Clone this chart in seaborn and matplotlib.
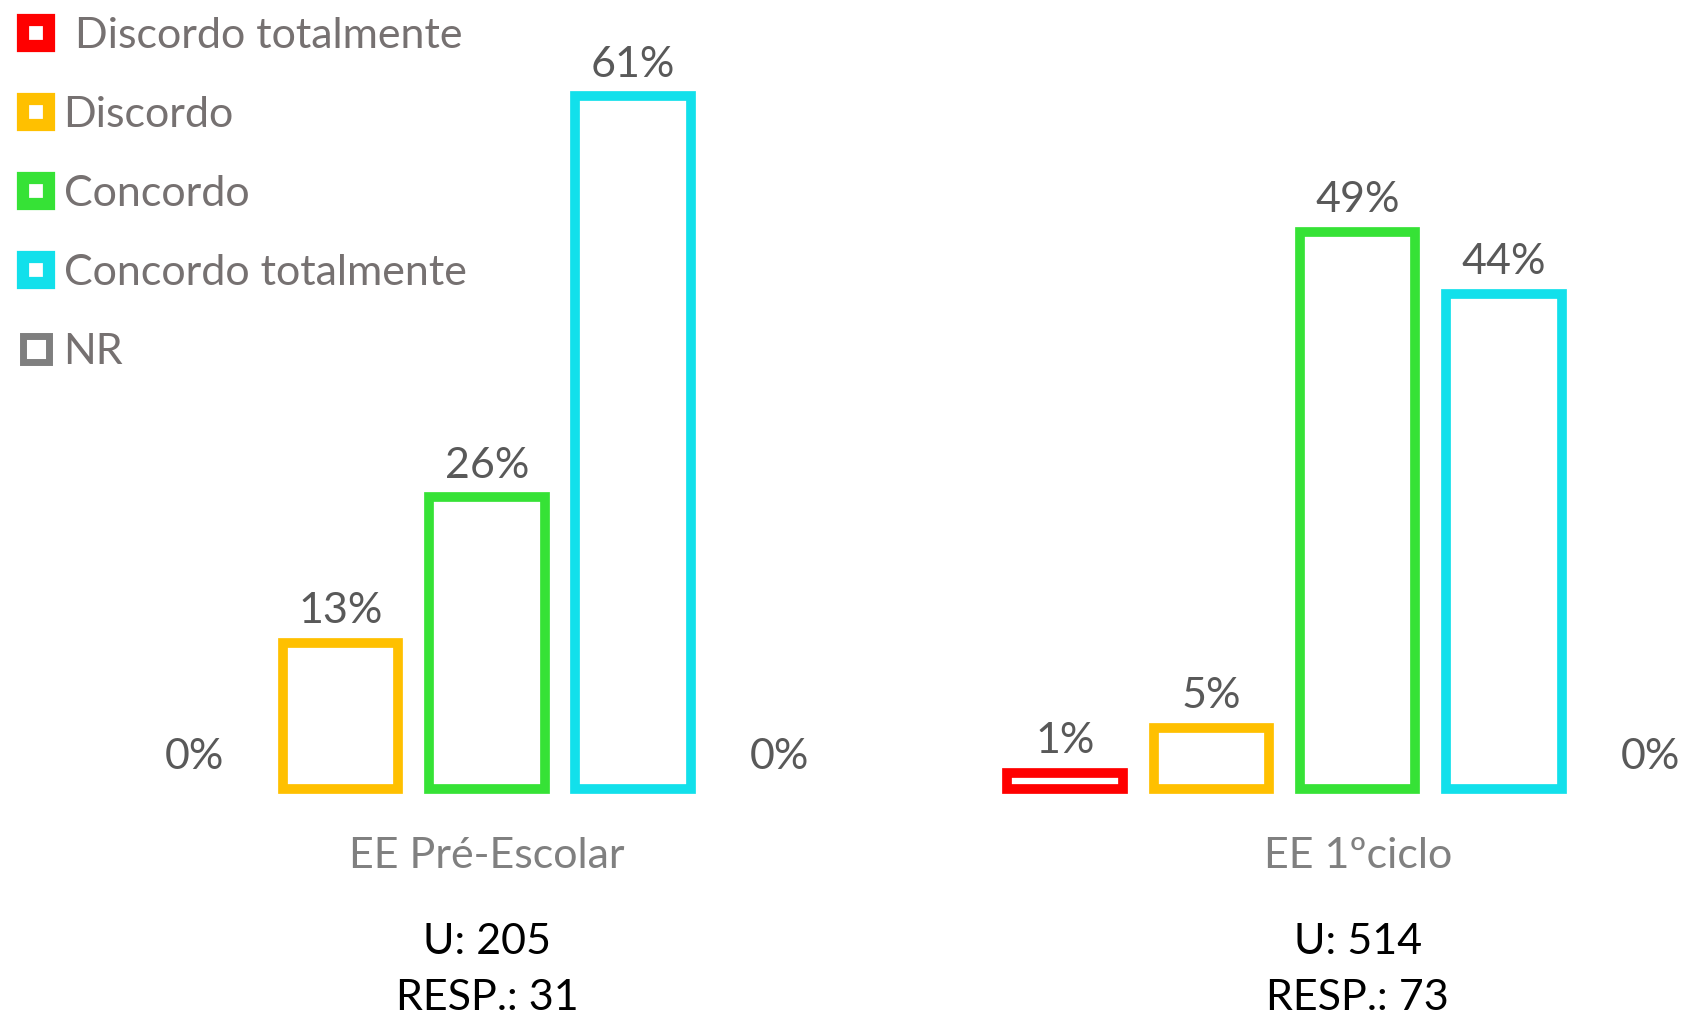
import matplotlib
matplotlib.use("Agg")
import matplotlib.pyplot as plt
from matplotlib.lines import Line2D
import pandas as pd
import seaborn as sns

# ---- data ----
grupos = ["EE Pré-Escolar", "EE 1ºciclo"]
respostas = ["Discordo totalmente", "Discordo", "Concordo", "Concordo totalmente", "NR"]
pre_escolar = [0.0, 12.9, 25.8, 61.3, 0.0]
primeiro_ciclo = [1.4, 5.4, 49.3, 43.8, 0.0]
universo = [205, 514]
respondentes = [31, 73]

cores = ["#FF0000", "#FFC000", "#36E236", "#12E0EB", "#7F7F7F"]

df = pd.DataFrame({
    "grupo": [grupos[0]] * 5 + [grupos[1]] * 5,
    "resposta": respostas * 2,
    "valor": pre_escolar + primeiro_ciclo,
})

sns.set_style("white")
plt.rcParams["font.family"] = ["Lato", "DejaVu Sans"]

W, H = 1686, 1018
fig = plt.figure(figsize=(W / 100, H / 100), dpi=100)
ax = fig.add_axes([0, 218 / H, 1, 800 / H])

# outline bars, one per hue level inside each group
sns.barplot(data=df, x="grupo", y="valor", hue="resposta", hue_order=respostas,
            palette=cores, saturation=1, fill=False, width=0.84, gap=0.21,
            linewidth=7, legend=False, ax=ax)

for p in ax.patches:
    p.set_clip_on(False)
    p.set_joinstyle("miter")
    if p.get_height() == 0:
        p.set_visible(False)

for c in ax.containers:
    ax.bar_label(c, labels=[f"{v:.0f}%" for v in c.datavalues], padding=9,
                 fontsize=31, color="#595959")

ax.set_xlim(-0.559, 1.377)
ax.set_ylim(-1, 69.8)
ax.set_xlabel("")
ax.set_ylabel("")
ax.set_yticks([])
ax.tick_params(axis="x", length=0, pad=27, labelsize=31, labelcolor="#808080")
sns.despine(ax=ax, left=True, bottom=True)

for i in range(len(grupos)):
    ax.text(i, -0.2125, f"U: {universo[i]}\nRESP.: {respondentes[i]}",
            transform=ax.get_xaxis_transform(), ha="center", va="center",
            fontsize=31, color="black", linespacing=1.58)

# legend
handles = []
for r, c in zip(respostas, cores):
    if r == "NR":
        h = Line2D([], [], linestyle="none", marker="s", markersize=19,
                   markerfacecolor="white", markeredgecolor=c, markeredgewidth=5)
    else:
        h = Line2D([], [], linestyle="none", marker="s", markersize=18.5,
                   markerfacecolor="white", markeredgecolor=c, markeredgewidth=8.8)
    handles.append(h)
leg_labels = [" " + respostas[0]] + respostas[1:]
fig.legend(handles, leg_labels, loc="upper left", bbox_to_anchor=(14 / W, 1 - 17 / H),
           frameon=False, fontsize=31, labelcolor="#767171", handlelength=1.0,
           handletextpad=0.15, labelspacing=0.955, borderpad=0, borderaxespad=0)

fig.savefig("out.png", dpi=100)
